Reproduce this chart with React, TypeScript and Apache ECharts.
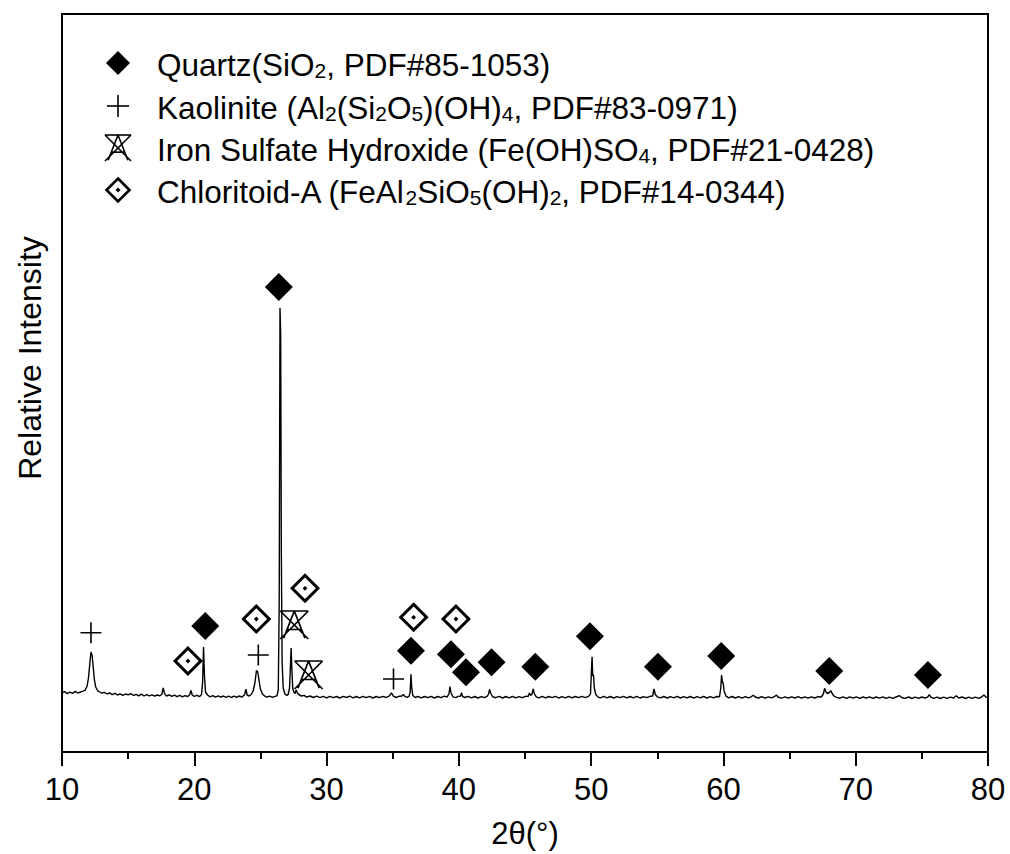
import React, { useEffect, useRef } from "react";
import * as echarts from "echarts";

// 2θ (degrees) vs. intensity (counts)
const pattern: number[][] = [
  [10.0, 592], [10.2, 604], [10.4, 583], [10.6, 598], [10.8, 586], [11.0, 606], [11.2, 590], [11.4, 600],
  [11.6, 608], [11.75, 618], [11.9, 660], [12.0, 740], [12.1, 880], [12.19, 1000], [12.28, 965], [12.36, 850],
  [12.45, 720], [12.55, 650], [12.7, 612], [12.85, 600], [13.0, 588], [13.2, 596], [13.4, 580], [13.6, 592],
  [13.8, 574], [14.0, 586], [14.2, 570], [14.4, 582], [14.6, 566], [14.8, 580], [15.0, 571], [15.2, 584],
  [15.4, 565], [15.6, 576], [15.8, 562], [16.0, 578], [16.2, 560], [16.4, 574], [16.6, 561], [16.8, 572],
  [17.0, 558], [17.2, 570], [17.4, 562], [17.55, 578], [17.65, 640], [17.75, 584], [17.9, 560], [18.1, 571],
  [18.3, 556], [18.5, 568], [18.7, 553], [18.9, 566], [19.1, 552], [19.3, 564], [19.5, 555], [19.65, 572],
  [19.75, 615], [19.85, 568], [20.0, 556], [20.2, 566], [20.4, 554], [20.55, 575], [20.63, 700], [20.7, 1050],
  [20.77, 760], [20.85, 600], [21.0, 570], [21.2, 552], [21.4, 564], [21.6, 549], [21.8, 562], [22.0, 548],
  [22.2, 560], [22.4, 546], [22.6, 559], [22.8, 545], [23.0, 558], [23.2, 547], [23.4, 560], [23.6, 549],
  [23.8, 572], [23.9, 628], [24.0, 570], [24.15, 560], [24.3, 575], [24.45, 610], [24.58, 690], [24.7, 815],
  [24.8, 800], [24.9, 710], [25.0, 630], [25.15, 580], [25.3, 562], [25.5, 548], [25.7, 558], [25.9, 546],
  [26.1, 556], [26.25, 562], [26.35, 620], [26.42, 1500], [26.48, 4440], [26.53, 4180], [26.58, 2000], [26.64, 900],
  [26.72, 640], [26.85, 580], [27.0, 566], [27.1, 575], [27.2, 640], [27.27, 860], [27.32, 1040], [27.38, 820],
  [27.44, 640], [27.52, 600], [27.62, 585], [27.7, 620], [27.8, 590], [27.95, 570], [28.1, 560], [28.3, 566],
  [28.5, 549], [28.75, 560], [29.0, 545], [29.25, 558], [29.5, 543], [29.75, 556], [30.0, 541], [30.25, 557],
  [30.5, 544], [30.75, 555], [31.0, 540], [31.25, 556], [31.5, 545], [31.75, 558], [32.0, 542], [32.25, 555],
  [32.5, 541], [32.75, 557], [33.0, 544], [33.25, 556], [33.5, 540], [33.75, 555], [34.0, 543], [34.25, 557],
  [34.5, 545], [34.75, 562], [34.9, 592], [35.05, 558], [35.25, 545], [35.5, 558], [35.7, 560], [35.8, 576],
  [35.92, 556], [36.1, 546], [36.25, 560], [36.32, 600], [36.38, 777], [36.44, 640], [36.52, 566], [36.7, 545],
  [36.9, 557], [37.15, 541], [37.4, 555], [37.65, 543], [37.9, 556], [38.15, 540], [38.4, 555], [38.65, 544],
  [38.9, 558], [39.1, 548], [39.25, 580], [39.33, 653], [39.41, 590], [39.55, 552], [39.75, 544], [39.95, 557],
  [40.12, 556], [40.2, 593], [40.28, 556], [40.45, 545], [40.7, 557], [40.95, 542], [41.2, 555], [41.45, 540],
  [41.7, 554], [41.95, 543], [42.15, 558], [42.25, 580], [42.32, 627], [42.4, 590], [42.55, 552], [42.8, 543],
  [43.05, 556], [43.3, 540], [43.55, 555], [43.8, 542], [44.05, 557], [44.3, 541], [44.55, 554], [44.8, 543],
  [45.05, 557], [45.25, 556], [45.33, 590], [45.42, 566], [45.52, 575], [45.62, 630], [45.7, 585], [45.85, 552],
  [46.05, 542], [46.3, 556], [46.55, 541], [46.8, 555], [47.05, 543], [47.3, 557], [47.55, 540], [47.8, 554],
  [48.05, 542], [48.3, 556], [48.55, 541], [48.8, 555], [49.05, 543], [49.3, 557], [49.55, 544], [49.8, 556],
  [49.95, 580], [50.02, 800], [50.07, 953], [50.12, 760], [50.18, 770], [50.24, 640], [50.35, 575], [50.5, 552],
  [50.7, 542], [50.95, 557], [51.2, 541], [51.45, 555], [51.7, 540], [51.95, 554], [52.2, 543], [52.45, 556],
  [52.7, 541], [52.95, 555], [53.2, 542], [53.45, 557], [53.7, 540], [53.95, 554], [54.2, 543], [54.45, 557],
  [54.65, 560], [54.75, 630], [54.85, 575], [55.0, 552], [55.25, 541], [55.5, 555], [55.75, 540], [56.0, 554],
  [56.25, 542], [56.5, 556], [56.75, 540], [57.0, 553], [57.25, 541], [57.5, 555], [57.75, 539], [58.0, 553],
  [58.25, 542], [58.5, 556], [58.75, 540], [59.0, 553], [59.25, 541], [59.5, 555], [59.7, 552], [59.8, 640],
  [59.86, 770], [59.92, 700], [59.98, 690], [60.05, 610], [60.2, 558], [60.4, 542], [60.65, 555], [60.9, 540],
  [61.15, 553], [61.4, 539], [61.65, 554], [61.9, 541], [62.1, 552], [62.25, 568], [62.4, 550], [62.65, 540],
  [62.9, 553], [63.15, 539], [63.4, 552], [63.65, 541], [63.85, 553], [64.0, 570], [64.15, 548], [64.4, 539],
  [64.65, 552], [64.9, 538], [65.15, 551], [65.4, 540], [65.65, 553], [65.9, 538], [66.15, 551], [66.4, 539],
  [66.65, 552], [66.9, 540], [67.15, 553], [67.4, 550], [67.55, 580], [67.65, 637], [67.75, 600], [67.85, 585],
  [68.0, 595], [68.12, 613], [68.22, 585], [68.35, 560], [68.55, 546], [68.8, 538], [69.05, 552], [69.3, 537],
  [69.55, 551], [69.8, 539], [70.05, 552], [70.3, 537], [70.55, 550], [70.8, 538], [71.05, 551], [71.3, 536],
  [71.55, 550], [71.8, 538], [72.05, 551], [72.3, 537], [72.55, 549], [72.8, 536], [73.05, 550], [73.3, 564],
  [73.5, 543], [73.75, 536], [74.0, 550], [74.25, 535], [74.5, 549], [74.75, 537], [75.0, 550], [75.25, 538],
  [75.45, 551], [75.56, 574], [75.68, 548], [75.9, 537], [76.15, 549], [76.4, 535], [76.65, 548], [76.9, 536],
  [77.15, 549], [77.4, 540], [77.6, 562], [77.8, 540], [78.05, 550], [78.3, 535], [78.55, 548], [78.8, 536],
  [79.05, 549], [79.3, 537], [79.5, 548], [79.7, 572], [79.85, 546], [80.0, 552],
];

// phase marker positions [2θ, intensity]
const quartzMarks: number[][] = [
  [20.83, 1260], [26.39, 4650], [36.38, 1013], [39.4, 977], [40.54, 797], [42.47, 897],
  [45.78, 853], [49.91, 1157], [55.05, 853], [59.83, 960], [68.0, 810], [75.46, 770],
];
const kaoliniteMarks: number[][] = [[12.19, 1193], [24.84, 970], [35.06, 730]];
const ironMarks: number[][] = [[27.56, 1270], [28.64, 770]];
const chloritoidMarks: number[][] = [[19.52, 910], [24.69, 1330], [28.37, 1637], [36.58, 1347], [39.78, 1330]];

const xTicks = { min: 10, max: 80, interval: 10 };
const yRange = { min: 0, max: 7380 };

const xName = "2θ(°)";
const yName = "Relative Intensity";

// legend entries: plain text pieces and subscripts
const legendRows: { parts: [string, boolean][] }[] = [
  { parts: [["Quartz(SiO", false], ["2", true], [", PDF#85-1053)", false]] },
  {
    parts: [
      ["Kaolinite (Al", false], ["2", true], ["(Si", false], ["2", true], ["O", false], ["5", true],
      [")(OH)", false], ["4", true], [", PDF#83-0971)", false],
    ],
  },
  { parts: [["Iron Sulfate Hydroxide (Fe(OH)SO", false], ["4", true], [", PDF#21-0428)", false]] },
  {
    parts: [
      ["Chloritoid-A (FeAl", false], ["2", true], ["SiO", false], ["5", true], ["(OH)", false], ["2", true],
      [", PDF#14-0344)", false],
    ],
  },
];

const FONT = "Liberation Sans, Arial, Helvetica, sans-serif";
const PLUS = "path://M0.5,0L0.5,1M0,0.5L1,0.5";
const XTRI = "path://M0,0L1,0M0,0L1,1M1,0L0,1M0.5,0L0.12,0.97M0.5,0L0.88,0.97M0.24,0.66L0.76,0.66";
const DOTDIA =
  "path://M0.5,0L1,0.5L0.5,1L0,0.5ZM0.5,0.14L0.14,0.5L0.5,0.86L0.86,0.5ZM0.5,0.42L0.58,0.5L0.5,0.58L0.42,0.5Z";

export default function App() {
  const ref = useRef<HTMLDivElement>(null);
  useEffect(() => {
    if (!ref.current) return;
    const chart = echarts.init(ref.current, undefined, { renderer: "svg" });

    const legendX = 118;
    const textX = 157;
    const rowY = [63, 106, 148, 190];
    const rich = {
      n: { fontSize: 31.5, fontFamily: FONT, color: "#000", lineHeight: 35, verticalAlign: "bottom" },
      s: { fontSize: 21, fontFamily: FONT, color: "#000", lineHeight: 21, verticalAlign: "bottom" },
    };
    const graphics: any[] = [];
    legendRows.forEach((row, i) => {
      const txt = row.parts.map(([t, sub]) => `{${sub ? "s" : "n"}|${t}}`).join("");
      graphics.push({
        type: "text",
        x: textX,
        y: rowY[i],
        style: { text: txt, rich, verticalAlign: "middle", align: "left", font: `31.5px ${FONT}` },
      });
    });
    const cx = legendX;
    // quartz filled diamond
    let y = rowY[0];
    graphics.push({
      type: "polygon",
      shape: { points: [[cx, y - 12], [cx + 12, y], [cx, y + 12], [cx - 12, y]] },
      style: { fill: "#000" },
    });
    // kaolinite plus
    y = rowY[1];
    graphics.push({ type: "line", shape: { x1: cx - 11, y1: y, x2: cx + 11, y2: y }, style: { stroke: "#000", lineWidth: 1.6 } });
    graphics.push({ type: "line", shape: { x1: cx, y1: y - 11, x2: cx, y2: y + 11 }, style: { stroke: "#000", lineWidth: 1.6 } });
    // iron sulfate hydroxide X with triangle
    y = rowY[2];
    const h = 13;
    const segs = [
      [-h, -h, h, -h], [-h, -h, h, h], [h, -h, -h, h], [0, -h, -0.76 * h, 0.94 * h], [0, -h, 0.76 * h, 0.94 * h],
      [-0.52 * h, 0.32 * h, 0.52 * h, 0.32 * h],
    ];
    segs.forEach(([a, b, c, d]) =>
      graphics.push({
        type: "line",
        shape: { x1: cx + a, y1: y + b, x2: cx + c, y2: y + d },
        style: { stroke: "#000", lineWidth: 1.6 },
      })
    );
    // chloritoid dotted diamond
    y = rowY[3];
    graphics.push({
      type: "polygon",
      shape: { points: [[cx, y - 11.5], [cx + 11.5, y], [cx, y + 11.5], [cx - 11.5, y]] },
      style: { fill: "#fff", stroke: "#000", lineWidth: 2.6 },
    });
    graphics.push({
      type: "polygon",
      shape: { points: [[cx, y - 2.5], [cx + 2.5, y], [cx, y + 2.5], [cx - 2.5, y]] },
      style: { fill: "#000" },
    });
    // y axis title
    graphics.push({
      type: "text",
      x: 30,
      y: 358,
      rotation: Math.PI / 2,
      style: { text: yName, font: `32px ${FONT}`, fill: "#000", align: "center", verticalAlign: "middle" },
    });

    chart.setOption({
      animation: false,
      backgroundColor: "#fff",
      grid: { left: 62, right: 22, top: 14, bottom: 102, show: true, borderColor: "#000", borderWidth: 2 },
      xAxis: {
        type: "value",
        min: xTicks.min,
        max: xTicks.max,
        interval: xTicks.interval,
        name: xName,
        nameLocation: "middle",
        nameGap: 66,
        nameTextStyle: { fontSize: 31, fontFamily: FONT, color: "#000" },
        axisLine: { onZero: false, lineStyle: { color: "#000", width: 2 } },
        axisTick: { show: true, inside: false, length: 14, lineStyle: { color: "#000", width: 2 } },
        minorTick: { show: true, splitNumber: 2, length: 7, lineStyle: { color: "#000", width: 2 } },
        splitLine: { show: false },
        axisLabel: { fontSize: 31, fontFamily: FONT, color: "#000", margin: 22 },
      },
      yAxis: {
        type: "value",
        min: yRange.min,
        max: yRange.max,
        axisLine: { show: true, lineStyle: { color: "#000", width: 2 } },
        axisTick: { show: false },
        axisLabel: { show: false },
        splitLine: { show: false },
      },
      series: [
        {
          type: "line",
          data: pattern,
          showSymbol: false,
          symbol: "none",
          lineStyle: { color: "#000", width: 1.4 },
          z: 2,
        },
        {
          type: "scatter",
          data: quartzMarks,
          symbol: "diamond",
          symbolSize: 28,
          itemStyle: { color: "#000", opacity: 1 },
          z: 3,
        },
        {
          type: "scatter",
          data: kaoliniteMarks,
          symbol: PLUS,
          symbolSize: 21,
          itemStyle: { color: "transparent", borderColor: "#000", borderWidth: 1.6, opacity: 1 },
          z: 3,
        },
        {
          type: "scatter",
          data: ironMarks,
          symbol: XTRI,
          symbolSize: 28,
          itemStyle: { color: "transparent", borderColor: "#000", borderWidth: 1.7, opacity: 1 },
          z: 3,
        },
        {
          type: "scatter",
          data: chloritoidMarks,
          symbol: DOTDIA,
          symbolSize: 30,
          itemStyle: { color: "#000", opacity: 1 },
          z: 3,
        },
      ],
      graphic: graphics,
    });
    return () => chart.dispose();
  }, []);
  return <div ref={ref} style={{ position: "fixed", left: 0, top: 0, width: 1010, height: 854 }} />;
}
